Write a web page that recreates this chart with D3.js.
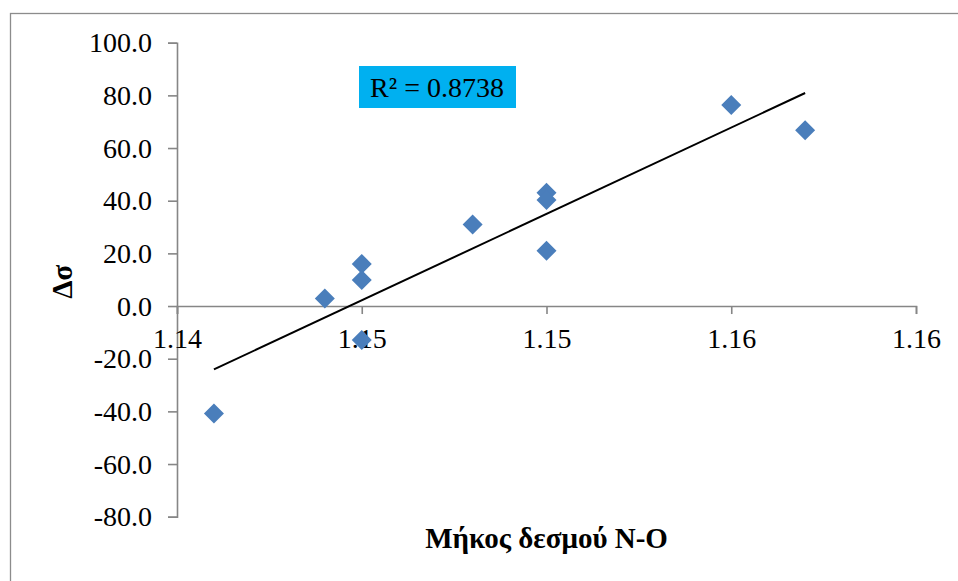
<!DOCTYPE html>
<html>
<head>
<meta charset="utf-8">
<script src="https://cdn.jsdelivr.net/npm/d3@7"></script>
<style>
  html, body { margin: 0; padding: 0; background: #fff; }
  svg { display: block; }
</style>
</head>
<body>
<svg id="chart" width="958" height="581"></svg>
<script>
// ---- data ----
const bondLength = [1.141, 1.144, 1.145, 1.145, 1.145, 1.148, 1.150, 1.150, 1.150, 1.155, 1.157];
const deltaSigma = [-40.8, 2.9, 16.0, 9.9, -12.9, 31.0, 43.0, 40.3, 21.0, 76.3, 66.8];
const xTickValues = [1.140, 1.145, 1.150, 1.155, 1.160];
const xTickLabels = ["1.14", "1.15", "1.15", "1.16", "1.16"];
const yTickValues = [-80, -60, -40, -20, 0, 20, 40, 60, 80, 100];
const xTitle = "Μήκος δεσμού N-O";
const yTitle = "Δσ";
const r2Label = "R² = 0.8738";

const points = bondLength.map((x, i) => ({ x, y: deltaSigma[i] }));

const svg = d3.select("#chart");
const FONT = "'Liberation Serif', 'Times New Roman', serif";
const axisColor = "#868686";

// outer chart border
svg.append("rect")
  .attr("x", 10.5).attr("y", 13.5)
  .attr("width", 1000).attr("height", 1000)
  .attr("fill", "none").attr("stroke", "#8c8c8c").attr("stroke-width", 1.3);

const x = d3.scaleLinear().domain([1.140, 1.160]).range([177, 916]);
const y = d3.scaleLinear().domain([-80, 100]).range([516.7, 42.7]);

// y axis
const yFmt = v => d3.format(".1f")(v).replace("\u2212", "-");
const yAxis = d3.axisLeft(y).tickValues(yTickValues).tickSize(9).tickPadding(16).tickFormat(yFmt);
const gy = svg.append("g").attr("transform", `translate(${x(1.140)},0)`).call(yAxis);
gy.select(".domain").attr("stroke", axisColor).attr("stroke-width", 1.6);
gy.selectAll(".tick line").attr("stroke", axisColor).attr("stroke-width", 1.6);
gy.selectAll(".tick text").attr("font-family", FONT).attr("font-size", 28).attr("fill", "#000");

// x axis at y = 0
const xAxis = d3.axisBottom(x).tickValues(xTickValues).tickSizeInner(8).tickSizeOuter(8).tickPadding(14)
  .tickFormat((d, i) => xTickLabels[i]);
const gx = svg.append("g").attr("transform", `translate(0,${y(0)})`).call(xAxis);
gx.select(".domain").attr("stroke", axisColor).attr("stroke-width", 1.6);
gx.selectAll(".tick line").attr("stroke", axisColor).attr("stroke-width", 1.6);
gx.selectAll(".tick text").attr("font-family", FONT).attr("font-size", 28).attr("fill", "#000");

// linear regression trendline (from the data)
const mx = d3.mean(points, d => d.x), my = d3.mean(points, d => d.y);
const sxy = d3.sum(points, d => (d.x - mx) * (d.y - my));
const sxx = d3.sum(points, d => (d.x - mx) ** 2);
const slope = sxy / sxx, intercept = my - slope * mx;
const [x0, x1] = d3.extent(bondLength);
svg.append("line")
  .attr("x1", x(x0)).attr("y1", y(intercept + slope * x0))
  .attr("x2", x(x1)).attr("y2", y(intercept + slope * x1))
  .attr("stroke", "#000").attr("stroke-width", 2);

// markers
svg.append("g").selectAll("path").data(points).join("path")
  .attr("transform", d => `translate(${x(d.x)},${y(d.y)})`)
  .attr("d", "M0,-10L10,0L0,10L-10,0Z")
  .attr("fill", "#4a7ebb");

// R² label
const lbl = svg.append("g");
lbl.append("rect").attr("x", 359).attr("y", 66).attr("width", 157).attr("height", 42).attr("fill", "#00b0f0");
lbl.append("text").attr("x", 437).attr("y", 97).attr("text-anchor", "middle")
  .attr("font-family", FONT).attr("font-size", 28).attr("fill", "#000").text(r2Label);

// axis titles
svg.append("text").attr("x", (x(1.14) + x(1.16)) / 2).attr("y", 548).attr("text-anchor", "middle")
  .attr("font-family", FONT).attr("font-size", 29).attr("font-weight", "bold").attr("fill", "#000")
  .text(xTitle);
svg.append("text").attr("transform", `translate(72,${(y(-80) + y(100)) / 2 + 2}) rotate(-90)`)
  .attr("text-anchor", "middle")
  .attr("font-family", FONT).attr("font-size", 29).attr("font-weight", "bold").attr("fill", "#000")
  .text(yTitle);
</script>
</body>
</html>
